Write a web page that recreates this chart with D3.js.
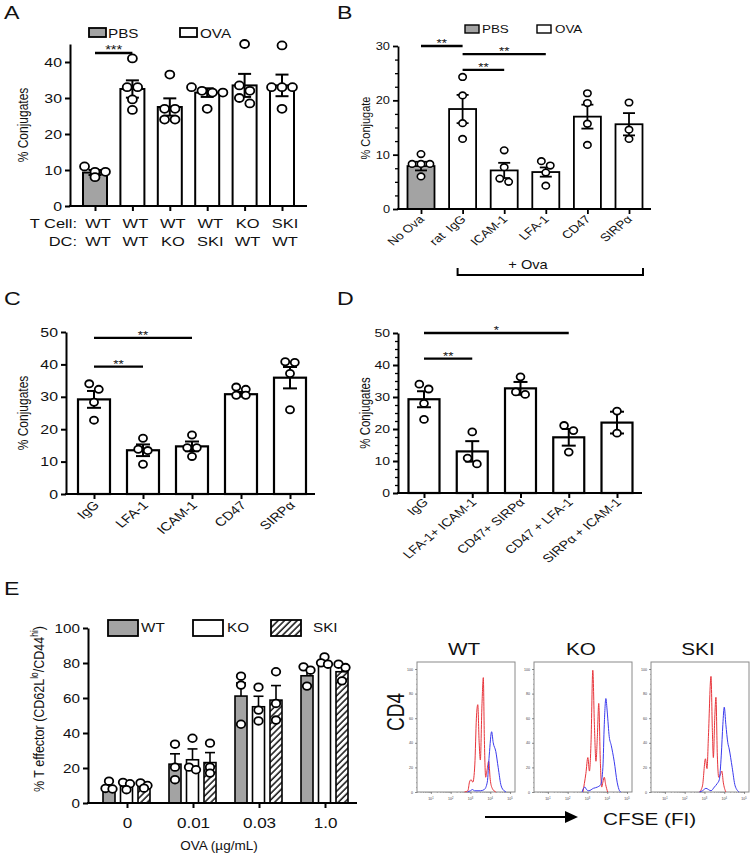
<!DOCTYPE html>
<html><head><meta charset="utf-8">
<script src="https://cdn.jsdelivr.net/npm/d3@7"></script>
<style>body{margin:0;background:#fff} svg{display:block;font-family:"Liberation Sans",Arial,sans-serif} text{white-space:pre}</style>
</head><body><svg id="c" width="750" height="856"></svg>
<script>
// ---------------- DATA ----------------
// Panel A
const aCats = ["c1","c2","c3","c4","c5","c6"];
const aTCell = ["WT","WT","WT","WT","KO","SKI"];
const aDC = ["WT","WT","KO","SKI","WT","WT"];
const aGroup = ["PBS","OVA","OVA","OVA","OVA","OVA"];
const aMeans = [9.3,32.5,27.5,31.5,33.5,33.5];
const aSem = [0.7,2.4,2.4,1.2,3.2,3.0];
const aPoints = [[11,9.5,9.5,8],[41,33,33,29.6,26.7],[36.5,27,27,24,24],[33,32,31.5,31.5,27],[45,33.5,32,30,28.5],[44.6,33,33,33,27]];
const aSig = [[0,1,42.5,"***"]];
const legendAB = ["PBS","OVA"];
// Panel B
const bCats = ["No Ova","rat  IgG","ICAM-1","LFA-1","CD47","SIRPα"];
const bGroup = ["PBS","OVA","OVA","OVA","OVA","OVA"];
const bMeans = [7.9,18.4,7.1,6.8,17.0,15.6];
const bSem = [0.8,2.6,1.4,0.85,2.2,2.05];
const bPoints = [[10.1,8.3,8.3,8.3,6.0],[24.3,20.9,15.8,12.9],[10.8,7.7,5.0,5.6],[8.8,8.0,6.7,4.3],[21.3,19.5,15.7,11.8],[19.6,14.6,12.9]];
const bSig = [[0,1,30,"**"],[1,3,28.5,"**"],[1,2,25.6,"**"]];
// Panel C
const cCats = ["IgG","LFA-1","ICAM-1","CD47","SIRPα"];
const cMeans = [29.2,13.5,14.7,30.8,35.9];
const cSem = [2.6,1.8,1.5,0.7,3.3];
const cPoints = [[34,32.3,28.3,22.8],[17.2,13.8,13.4,9.2],[18.2,14.3,14.3,11.6],[33,32.3,30.5,30.5],[40.6,40.8,37.2,26]];
const cSig = [[0,2,48.2,"**"],[0,1,39.3,"**"]];
// Panel D
const dCats = ["IgG","LFA-1+ ICAM-1","CD47+ SIRPα","CD47 + LFA-1","SIRPα + ICAM-1"];
const dMeans = [29.3,13.0,32.7,17.4,22.0];
const dSem = [2.5,3.2,2.0,2.6,3.4];
const dPoints = [[34,32.5,28,23],[19.1,10.9,9.1],[36.3,31.6,30.8],[21.1,19.5,12.8],[25.6,18.7]];
const dSig = [[0,3,50,"*"],[0,1,42,"**"]];
// Panel E
const eDoses = ["0","0.01","0.03","1.0"];
const eSeries = ["WT","KO","SKI"];
const eWT = [7.6,22.2,61.1,72.7];
const eKO = [9.5,24.7,55.0,78.7];
const eSKI = [9.5,23.1,58.8,75.0];
const eWTsem = [2.0,5.9,7.5,3.4];
const eKOsem = [1.5,6.2,6.0,1.5];
const eSKIsem = [1.2,5.7,8.3,3.2];
const eWTpts = [[12.5,8.3,8.0],[33.6,20.5,13.3],[72.5,67.4,45],[77.8,75.9,66.8]];
const eKOpts = [[11.8,11.0,7.6],[37,20.5,19],[66.2,53.1,46.9],[83.5,80.1,79.3]];
const eSKIpts = [[11.5,10,8.5],[34.2,20.5,17.1],[75,56.9,47.4],[79.3,77.4,69.8]];
const eYTicks = [0,20,40,60,80,100];
// Histograms (log10 CFSE, % of max)
const histNames = ["WT","KO","SKI"];
const histWTred = [[2.7,0],[2.87,1],[2.95,8],[3.03,10],[3.12,8],[3.22,22],[3.3,60],[3.37,71],[3.44,40],[3.5,26],[3.58,70],[3.65,93],[3.7,45],[3.77,12],[3.84,18],[3.92,25],[4.0,10],[4.1,3],[4.28,0]];
const histWTblue = [[2.85,0],[3.0,1],[3.1,2],[3.2,1],[3.5,1],[3.7,2],[3.85,8],[3.95,30],[4.07,49],[4.15,40],[4.28,33],[4.4,20],[4.55,5],[4.7,1],[4.8,0]];
const histKOred = [[2.77,0],[2.92,15],[3.02,28],[3.1,17],[3.18,40],[3.27,99],[3.35,55],[3.43,25],[3.5,45],[3.57,72],[3.65,25],[3.72,4],[3.78,8],[3.85,12],[3.92,6],[4.02,0]];
const histKOblue = [[2.73,0],[2.8,3],[2.87,4],[2.95,2],[3.07,1],[3.3,3],[3.5,4],[3.67,6],[3.78,20],[3.85,55],[3.93,76],[4.0,65],[4.1,45],[4.2,38],[4.35,25],[4.5,8],[4.62,1],[4.68,0]];
const histSKIred = [[2.75,0],[2.9,5],[3.05,27],[3.13,19],[3.2,45],[3.33,94],[3.4,50],[3.45,28],[3.52,60],[3.58,77],[3.65,30],[3.72,12],[3.8,14],[3.88,17],[3.95,8],[4.08,0]];
const histSKIblue = [[2.75,0],[2.9,1],[3.08,3],[3.2,2],[3.33,1],[3.5,4],[3.65,7],[3.75,10],[3.85,30],[3.93,55],[4.0,69],[4.08,55],[4.18,40],[4.25,35],[4.4,20],[4.55,5],[4.75,0]];
const histYTicks = [0,20,40,60,80,100];
const histXTicks = [1,2,3,4,5];

// ---------------- DRAWING ----------------
const SX = 1.22;
const GRAY = "#a3a3a3";
const svg = d3.select("#c");
const defs = svg.append("defs");
const pat = defs.append("pattern").attr("id","hatch").attr("patternUnits","userSpaceOnUse")
  .attr("width",4.5).attr("height",4.5).attr("patternTransform","rotate(45)");
pat.append("rect").attr("width",4.5).attr("height",4.5).attr("fill","#fff");
pat.append("line").attr("x1",1).attr("y1",0).attr("x2",1).attr("y2",4.5).attr("stroke","#000").attr("stroke-width",1.4);

function T(g,x,y,s,size,anchor,rot,sx){
  const k = sx===undefined?SX:sx;
  return g.append("text")
    .attr("transform",`translate(${x},${y}) scale(${k},1)`+(rot?` rotate(${rot})`:""))
    .attr("font-size",size).attr("text-anchor",anchor||"start").attr("fill","#111").text(s);
}
function fixAxis(g, sw, fs){
  g.attr("font-family",null).attr("font-size",null);
  g.selectAll("path,line").attr("stroke","#000").attr("stroke-width",sw);
  g.selectAll(".tick text").attr("fill","#111").attr("font-size",fs).each(function(){
    const t=d3.select(this); const xx=+(t.attr("x")||0);
    t.attr("x",xx/SX).attr("transform",`scale(${SX},1)`);
  });
}
function dodge(vals, y, r, thr, step){
  const idx = vals.map((v,i)=>i).sort((a,b)=>vals[b]-vals[a]);
  const rows=[]; let cur=null;
  idx.forEach(i=>{
    if(cur && Math.abs(y(vals[i])-y(vals[cur[0]]))<thr){cur.push(i);} else {cur=[i];rows.push(cur);}
  });
  const off=new Array(vals.length).fill(0);
  rows.forEach(row=>row.forEach((i,k)=>{off[i]=(k-(row.length-1)/2)*step;}));
  return off;
}
function pts(g, cx, vals, y, r, sw, thr, step){
  const off=dodge(vals,y,r,thr,step);
  g.selectAll(null).data(vals).enter().append("ellipse")
    .attr("cx",(d,i)=>cx+off[i]).attr("cy",d=>y(d)).attr("rx",r*1.12).attr("ry",r)
    .attr("fill","#fff").attr("stroke","#000").attr("stroke-width",sw);
}
function errBar(g, cx, m, s, y, cap, sw, both){
  g.append("line").attr("x1",cx).attr("x2",cx).attr("y1",y(both?m-s:m)).attr("y2",y(m+s)).attr("stroke","#000").attr("stroke-width",sw);
  g.append("line").attr("x1",cx-cap/2).attr("x2",cx+cap/2).attr("y1",y(m+s)).attr("y2",y(m+s)).attr("stroke","#000").attr("stroke-width",sw);
  if(both) g.append("line").attr("x1",cx-cap/2).attr("x2",cx+cap/2).attr("y1",y(m-s)).attr("y2",y(m-s)).attr("stroke","#000").attr("stroke-width",sw);
}

function barPanel(o){
  const g = svg.append("g");
  const x = d3.scalePoint().domain(o.cats).range([o.c0,o.c1]);
  const y = d3.scaleLinear().domain([0,o.yMax]).range([o.y0,o.yTop]);
  o.cats.forEach((c,i)=>{
    g.append("rect").attr("x",x(c)-o.barW/2).attr("y",y(o.means[i])).attr("width",o.barW)
      .attr("height",o.y0-y(o.means[i])).attr("fill",o.groups&&o.groups[i]==="PBS"?GRAY:"#fff")
      .attr("stroke","#000").attr("stroke-width",o.barSW);
  });
  o.cats.forEach((c,i)=>errBar(g,x(c),o.means[i],o.sems[i],y,o.cap,o.errSW,true));
  o.cats.forEach((c,i)=>pts(g,x(c),o.points[i],y,o.r,o.ptSW,2*o.r+0.5,2*o.r*1.12+1.5));
  const ya = g.append("g").attr("transform",`translate(${o.x0},0)`)
    .call(d3.axisLeft(y).tickValues(o.ticks).tickSize(5).tickSizeOuter(0).tickPadding(3));
  fixAxis(ya,o.axSW,o.fs);
  if(o.minor){
    const ma = g.append("g").attr("transform",`translate(${o.x0},0)`)
      .call(d3.axisLeft(y).tickValues(o.minor).tickSize(3).tickFormat(""));
    ma.select(".domain").remove(); fixAxis(ma,1.3,o.fs);
  }
  const xa = g.append("g").attr("transform",`translate(0,${o.y0})`)
    .call(d3.axisBottom(x).tickSize(5).tickFormat(""));
  xa.select(".domain").remove(); fixAxis(xa,o.axSW,o.fs);
  g.append("line").attr("x1",o.x0-o.axSW/2).attr("x2",o.xEnd).attr("y1",o.y0).attr("y2",o.y0)
    .attr("stroke","#000").attr("stroke-width",o.axSW);
  o.sig.forEach(s=>{
    const x1=x(o.cats[s[0]]), x2=x(o.cats[s[1]]), yy=y(s[2]);
    g.append("line").attr("x1",x1).attr("x2",x2).attr("y1",yy).attr("y2",yy).attr("stroke","#000").attr("stroke-width",2.4);
    T(g,(x1+x2)/2,yy+o.starDy,s[3],o.starFs,"middle");
  });
  if(o.rotLabels){
    o.cats.forEach(c=>T(g,x(c)+o.labDx,o.y0+o.labDy,c,o.labFs,"end",-45));
  }
  return {g,x,y};
}

// Panel letters
T(svg,4,19,"A",19); T(svg,337,19,"B",19); T(svg,4,305,"C",19); T(svg,337,305,"D",19); T(svg,4,595,"E",19);

// ---- Panel A
const A = barPanel({cats:aCats,means:aMeans,sems:aSem,points:aPoints,groups:aGroup,c0:95,c1:282,x0:70,xEnd:307,
  y0:206,yTop:44,yMax:45,ticks:[0,10,20,30,40],barW:24,barSW:2,cap:13,errSW:2,r:4,ptSW:1.8,axSW:2,fs:13,
  sig:aSig,starDy:1,starFs:12});
T(svg,28,125,"% Conjugates",12,"middle",-90);
T(svg,77,228,"T Cell:",13.5,"end"); T(svg,77,246,"DC:",13.5,"end");
aCats.forEach((c,i)=>{T(svg,A.x(c)+3,228,aTCell[i],13.5,"middle");T(svg,A.x(c)+3,246,aDC[i],13.5,"middle");});
svg.append("rect").attr("x",89).attr("y",28).attr("width",17).attr("height",9).attr("fill",GRAY).attr("stroke","#000").attr("stroke-width",1.8);
T(svg,108,37.5,legendAB[0],12.5);
svg.append("rect").attr("x",180).attr("y",28).attr("width",17).attr("height",9).attr("fill","#fff").attr("stroke","#000").attr("stroke-width",1.8);
T(svg,200,37.5,legendAB[1],12.5);

// ---- Panel B
const B = barPanel({cats:bCats,means:bMeans,sems:bSem,points:bPoints,groups:bGroup,c0:421,c1:629,x0:398,xEnd:651,
  y0:209,yTop:46,yMax:30,ticks:[0,10,20,30],minor:d3.range(2.5,30,2.5).filter(v=>v%10!==0),barW:27,barSW:1.8,cap:12,errSW:1.8,r:3.3,ptSW:1.6,axSW:1.8,fs:10.5,
  sig:bSig,starDy:1,starFs:11,rotLabels:true,labDx:4,labDy:11,labFs:11});
T(svg,370,128,"% Conjugate",11,"middle",-90);
svg.append("rect").attr("x",465).attr("y",25).attr("width",14).attr("height",8).attr("fill",GRAY).attr("stroke","#000").attr("stroke-width",1.4);
T(svg,482,33,legendAB[0],11);
svg.append("rect").attr("x",537).attr("y",25).attr("width",14).attr("height",8).attr("fill","#fff").attr("stroke","#000").attr("stroke-width",1.4);
T(svg,555,33,legendAB[1],11);
{
  const xl=B.x(bCats[1])-5, xr=B.x(bCats[5])+14;
  svg.append("path").attr("d",`M${xl},268 V275 H${xr} V268`).attr("fill","none").attr("stroke","#000").attr("stroke-width",2);
  T(svg,528,269,"+ Ova",12,"middle");
}

// ---- Panel C
barPanel({cats:cCats,means:cMeans,sems:cSem,points:cPoints,c0:94,c1:290,x0:66,xEnd:315,
  y0:494,yTop:332,yMax:50,ticks:[0,10,20,30,40,50],barW:32,barSW:2.2,cap:14,errSW:2,r:3.6,ptSW:1.8,axSW:2,fs:13,
  sig:cSig,starDy:1,starFs:11,rotLabels:true,labDx:6,labDy:12,labFs:12});
T(svg,28,413,"% Conjugates",12,"middle",-90);

// ---- Panel D
barPanel({cats:dCats,means:dMeans,sems:dSem,points:dPoints,c0:424,c1:617,x0:398,xEnd:642,
  y0:493,yTop:333,yMax:50,ticks:[0,10,20,30,40,50],minor:d3.range(2.5,50,2.5).filter(v=>v%10!==0),barW:31,barSW:2.2,cap:14,errSW:2,r:3.5,ptSW:1.8,axSW:2,fs:11.5,
  sig:dSig,starDy:1,starFs:11,rotLabels:true,labDx:5,labDy:10,labFs:11.5});
T(svg,370,413,"% Conjugates",11.5,"middle",-90);

// ---- Panel E
{
  const g = svg.append("g");
  const x0 = d3.scalePoint().domain(eDoses).range([127,325]);
  const x1 = d3.scalePoint().domain(eSeries).range([-18,17]);
  const y = d3.scaleLinear().domain([0,100]).range([803,628]);
  const means=[eWT,eKO,eSKI], sems=[eWTsem,eKOsem,eSKIsem], P=[eWTpts,eKOpts,eSKIpts];
  const fills=[GRAY,"#fff","url(#hatch)"];
  const bw=12;
  eSeries.forEach((s,si)=>{
    eDoses.forEach((d,di)=>{
      const cx=x0(d)+x1(s);
      g.append("rect").attr("x",cx-bw/2).attr("y",y(means[si][di])).attr("width",bw).attr("height",803-y(means[si][di]))
        .attr("fill",fills[si]).attr("stroke","#000").attr("stroke-width",1.6);
    });
  });
  eSeries.forEach((s,si)=>eDoses.forEach((d,di)=>errBar(g,x0(d)+x1(s),means[si][di],sems[si][di],y,10,1.6,false)));
  eSeries.forEach((s,si)=>eDoses.forEach((d,di)=>pts(g,x0(d)+x1(s),P[si][di],y,3.8,1.8,5,7)));
  const ya=g.append("g").attr("transform","translate(88,0)").call(d3.axisLeft(y).tickValues(eYTicks).tickSize(5).tickSizeOuter(0).tickPadding(3));
  fixAxis(ya,2,12.5);
  const xa=g.append("g").attr("transform","translate(0,803)").call(d3.axisBottom(x0).tickSize(5).tickPadding(10));
  xa.select(".domain").remove(); fixAxis(xa,2,14);
  g.append("line").attr("x1",87).attr("x2",357).attr("y1",803).attr("y2",803).attr("stroke","#000").attr("stroke-width",2);
  T(svg,219,850,"OVA (µg/mL)",13.5,"middle",0,1.0);
  const yl = svg.append("text").attr("transform",`translate(44,709) scale(${SX},1) rotate(-90)`)
    .attr("font-size",12.5).attr("text-anchor","middle").attr("fill","#111");
  yl.append("tspan").text("% T effector (CD62L");
  yl.append("tspan").attr("dy",-5).attr("font-size",8.5).text("lo");
  yl.append("tspan").attr("dy",5).text("/CD44");
  yl.append("tspan").attr("dy",-5).attr("font-size",8.5).text("hi");
  yl.append("tspan").attr("dy",5).text(")");
  const lx=[108,193,271], tx=[141,227,313];
  eSeries.forEach((s,i)=>{
    svg.append("rect").attr("x",lx[i]).attr("y",620).attr("width",30).attr("height",16).attr("fill",fills[i]).attr("stroke","#000").attr("stroke-width",1.8);
    T(svg,tx[i],632,s,12.5);
  });
}

// ---- Histograms
{
  const lefts=[417,534,651], W=98, top=662, bot=792;
  const hdata=[[histWTred,histWTblue],[histKOred,histKOblue],[histSKIred,histSKIblue]];
  histNames.forEach((nm,k)=>{
    const g=svg.append("g");
    const x=d3.scaleLinear().domain([0.3,5.25]).range([lefts[k],lefts[k]+W]);
    const y=d3.scaleLinear().domain([0,105.7]).range([bot,top]);
    g.append("rect").attr("x",lefts[k]).attr("y",top).attr("width",W).attr("height",bot-top).attr("fill","none").attr("stroke","#8a8a8a").attr("stroke-width",1);
    const line=d3.line().x(d=>x(d[0])).y(d=>y(d[1])).curve(d3.curveMonotoneX);
    g.append("path").attr("d",line(hdata[k][0])).attr("fill","none").attr("stroke","#e8343a").attr("stroke-width",1);
    g.append("path").attr("d",line(hdata[k][1])).attr("fill","none").attr("stroke","#3a3aee").attr("stroke-width",1);
    const ya=g.append("g").attr("transform",`translate(${lefts[k]},0)`).call(d3.axisLeft(y).tickValues(histYTicks).tickSize(2).tickPadding(2).tickSizeOuter(0));
    ya.select(".domain").remove();
    ya.attr("font-family",null).attr("font-size",3.6);
    ya.selectAll("line").attr("stroke","#444").attr("stroke-width",0.6);
    ya.selectAll("text").attr("fill","#444");
    const ym=g.append("g").attr("transform",`translate(${lefts[k]},0)`).call(d3.axisLeft(y).tickValues(d3.range(4,104,4).filter(v=>v%20)).tickSize(1).tickFormat(""));
    ym.select(".domain").remove(); ym.selectAll("line").attr("stroke","#777").attr("stroke-width",0.5);
    const xa=g.append("g").attr("transform",`translate(0,${bot})`).call(d3.axisBottom(x).tickValues(histXTicks).tickSize(2).tickFormat(""));
    xa.select(".domain").remove(); xa.selectAll("line").attr("stroke","#444").attr("stroke-width",0.6);
    const minor=[]; for(let e=0;e<6;e++) for(let m=2;m<10;m++){const v=e+Math.log10(m); if(v>0.3&&v<5.25) minor.push(v);}
    const xm=g.append("g").attr("transform",`translate(0,${bot})`).call(d3.axisBottom(x).tickValues(minor).tickSize(1).tickFormat(""));
    xm.select(".domain").remove(); xm.selectAll("line").attr("stroke","#777").attr("stroke-width",0.5);
    histXTicks.forEach(e=>{
      const t=g.append("text").attr("x",x(e)).attr("y",bot+8).attr("font-size",3.6).attr("text-anchor","middle").attr("fill","#444");
      t.append("tspan").text("10"); t.append("tspan").attr("dy",-1.5).attr("font-size",2.6).text(e);
    });
    T(svg,lefts[k]+W/2-2,655,nm,17,"middle");
  });
  T(svg,404,712,"CD4",19,"middle",-90);
  svg.append("line").attr("x1",485).attr("x2",566).attr("y1",817).attr("y2",817).attr("stroke","#000").attr("stroke-width",2);
  svg.append("path").attr("d","M565,811 L578,817 L565,823 Z").attr("fill","#000");
  T(svg,603,825,"CFSE (FI)",17);
}
</script></body></html>
